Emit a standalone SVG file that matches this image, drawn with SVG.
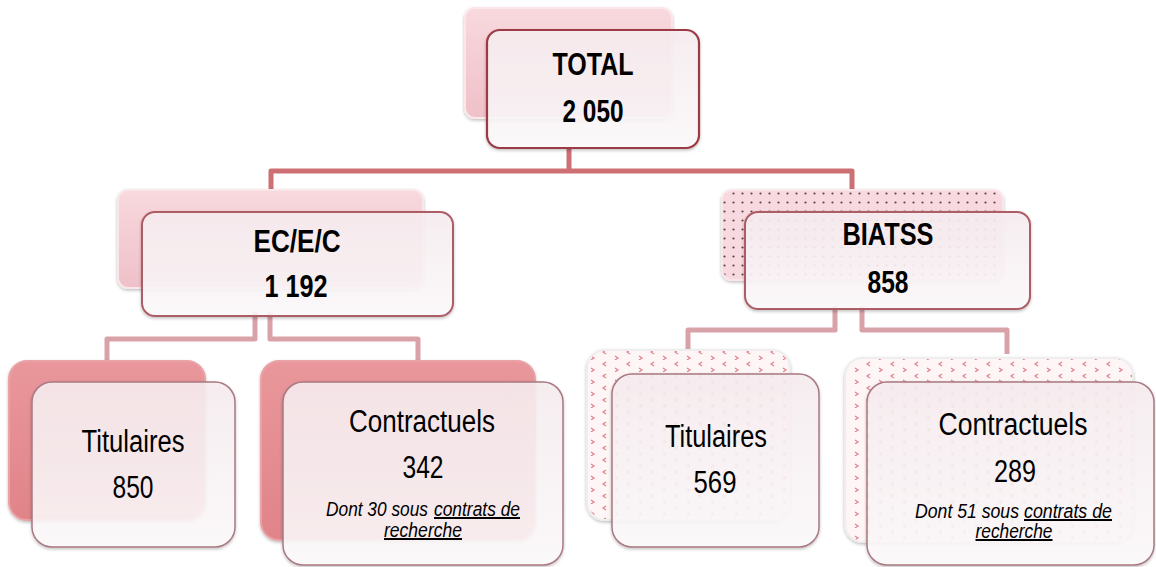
<svg xmlns="http://www.w3.org/2000/svg" width="1156" height="567" viewBox="0 0 1156 567">
<defs>
<style>
.t{font-family:"Liberation Sans",Arial,sans-serif;fill:#000;text-anchor:middle}
.s{text-anchor:start}
.b{font-weight:bold;font-size:31px}
.r{font-size:31px}
.i{font-style:italic;font-size:20px}
.u{text-decoration:underline}
.c1{fill:none;stroke:#cc7073;stroke-width:5;stroke-linejoin:round}
.c2{fill:none;stroke:#d9a2a8;stroke-width:5;stroke-linejoin:round}
.front{fill:url(#gFront);fill-opacity:0.88;filter:url(#sh)}
.back{filter:url(#sh)}
</style>
<linearGradient id="gFront" x1="0" y1="0" x2="0" y2="1">
<stop offset="0" stop-color="#f8eef1"/><stop offset="1" stop-color="#fefbfc"/>
</linearGradient>
<linearGradient id="gPinkL" x1="0" y1="0" x2="0" y2="1">
<stop offset="0" stop-color="#f8d9de"/><stop offset="1" stop-color="#efc0c8"/>
</linearGradient>
<linearGradient id="gSalmon" x1="0" y1="0" x2="0" y2="1">
<stop offset="0" stop-color="#e9979c"/><stop offset="1" stop-color="#e08489"/>
</linearGradient>
<pattern id="pDots" width="9" height="9" patternUnits="userSpaceOnUse">
<rect width="9" height="9" fill="#f7d9df"/>
<circle cx="4.5" cy="4.5" r="1.1" fill="#5e4248"/>
</pattern>
<pattern id="pChev" width="24" height="12" patternUnits="userSpaceOnUse">
<rect width="24" height="12" fill="#fdf5f6"/>
<path d="M6,2 L3,4 L6,6 M15,8 L18,10 L15,12" fill="none" stroke="#e27c87" stroke-width="1.1"/>
</pattern>
<filter id="sh" x="-10%" y="-10%" width="120%" height="125%">
<feDropShadow dx="0" dy="1.5" stdDeviation="1.5" flood-color="#000" flood-opacity="0.25"/>
</filter>
</defs>
<rect width="1156" height="567" fill="#fff"/>

<g id="connectors">
<path class="c1" d="M569,147 V171 H271 V193 M569,171 H852 V193"/>
<path class="c2" d="M255,312 V339 H107 V362"/>
<path class="c2" d="M270,312 V339 H418 V362"/>
<path class="c2" d="M835,306 V330 H688 V352"/>
<path class="c2" d="M862,306 V330 H1007 V354"/>
</g>

<g id="total">
<rect class="back" x="465" y="8" width="207" height="110" rx="10" fill="url(#gPinkL)" stroke="#fbe6ea" stroke-width="2"/>
<rect class="front" x="487" y="30" width="212" height="118" rx="13" stroke="#9c3a44" stroke-width="2.2"/>
<text class="t b" x="593" y="75" textLength="81" lengthAdjust="spacingAndGlyphs">TOTAL</text>
<text class="t b" x="593" y="122" textLength="61" lengthAdjust="spacingAndGlyphs">2 050</text>
</g>

<g id="ecec">
<rect class="back" x="118" y="190" width="305" height="98" rx="10" fill="url(#gPinkL)" stroke="#fbe6ea" stroke-width="2"/>
<rect class="front" x="142" y="212" width="311" height="104" rx="13" stroke="#ad5d66" stroke-width="2"/>
<text class="t b" x="297" y="252" textLength="87" lengthAdjust="spacingAndGlyphs">EC/E/C</text>
<text class="t b" x="296" y="297" textLength="63" lengthAdjust="spacingAndGlyphs">1 192</text>
</g>

<g id="biatss">
<rect class="back" x="722" y="190" width="281" height="90" rx="10" fill="url(#pDots)" stroke="#fbe6ea" stroke-width="2"/>
<rect class="front" x="745" y="212" width="285" height="97" rx="13" stroke="#ad5d66" stroke-width="2"/>
<text class="t b" x="888" y="245" textLength="91" lengthAdjust="spacingAndGlyphs">BIATSS</text>
<text class="t b" x="888" y="293" textLength="41" lengthAdjust="spacingAndGlyphs">858</text>
</g>

<g id="titulaires-ec">
<rect class="back" x="9" y="361" width="196" height="159" rx="18" fill="url(#gSalmon)" stroke="#e9a3a7" stroke-width="2"/>
<rect class="front" x="32" y="382" width="203" height="165" rx="20" stroke="#a97880" stroke-width="1.5"/>
<text class="t r" x="133" y="452" textLength="103" lengthAdjust="spacingAndGlyphs">Titulaires</text>
<text class="t r" x="133" y="498" textLength="41" lengthAdjust="spacingAndGlyphs">850</text>
</g>

<g id="contractuels-ec">
<rect class="back" x="261" y="361" width="274" height="179" rx="18" fill="url(#gSalmon)" stroke="#e9a3a7" stroke-width="2"/>
<rect class="front" x="283" y="382" width="280" height="183" rx="20" stroke="#a97880" stroke-width="1.5"/>
<text class="t r" x="422" y="432" textLength="146" lengthAdjust="spacingAndGlyphs">Contractuels</text>
<text class="t r" x="423" y="478" textLength="41" lengthAdjust="spacingAndGlyphs">342</text>
<text class="t s i" x="326" y="516" textLength="102" lengthAdjust="spacingAndGlyphs">Dont 30 sous</text>
<text class="t s i u" x="434" y="516" textLength="86" lengthAdjust="spacingAndGlyphs">contrats de</text>
<text class="t i u" x="423" y="537" textLength="78" lengthAdjust="spacingAndGlyphs">recherche</text>
</g>

<g id="titulaires-biatss">
<rect class="back" x="587" y="350" width="203" height="170" rx="18" fill="url(#pChev)" stroke="#eee" stroke-width="2"/>
<rect class="front" x="612" y="374" width="207" height="173" rx="20" stroke="#a97880" stroke-width="1.5"/>
<text class="t r" x="716" y="447" textLength="102" lengthAdjust="spacingAndGlyphs">Titulaires</text>
<text class="t r" x="715" y="493" textLength="43" lengthAdjust="spacingAndGlyphs">569</text>
</g>

<g id="contractuels-biatss">
<rect class="back" x="845" y="358" width="288" height="184" rx="18" fill="url(#pChev)" stroke="#eee" stroke-width="2"/>
<rect class="front" x="867" y="382" width="287" height="183" rx="20" stroke="#a97880" stroke-width="1.5"/>
<text class="t r" x="1013" y="435" textLength="149" lengthAdjust="spacingAndGlyphs">Contractuels</text>
<text class="t r" x="1015" y="482" textLength="42" lengthAdjust="spacingAndGlyphs">289</text>
<text class="t s i" x="915" y="518" textLength="104" lengthAdjust="spacingAndGlyphs">Dont 51 sous</text>
<text class="t s i u" x="1024" y="518" textLength="88" lengthAdjust="spacingAndGlyphs">contrats de</text>
<text class="t i u" x="1014" y="538" textLength="77" lengthAdjust="spacingAndGlyphs">recherche</text>
</g>
</svg>
